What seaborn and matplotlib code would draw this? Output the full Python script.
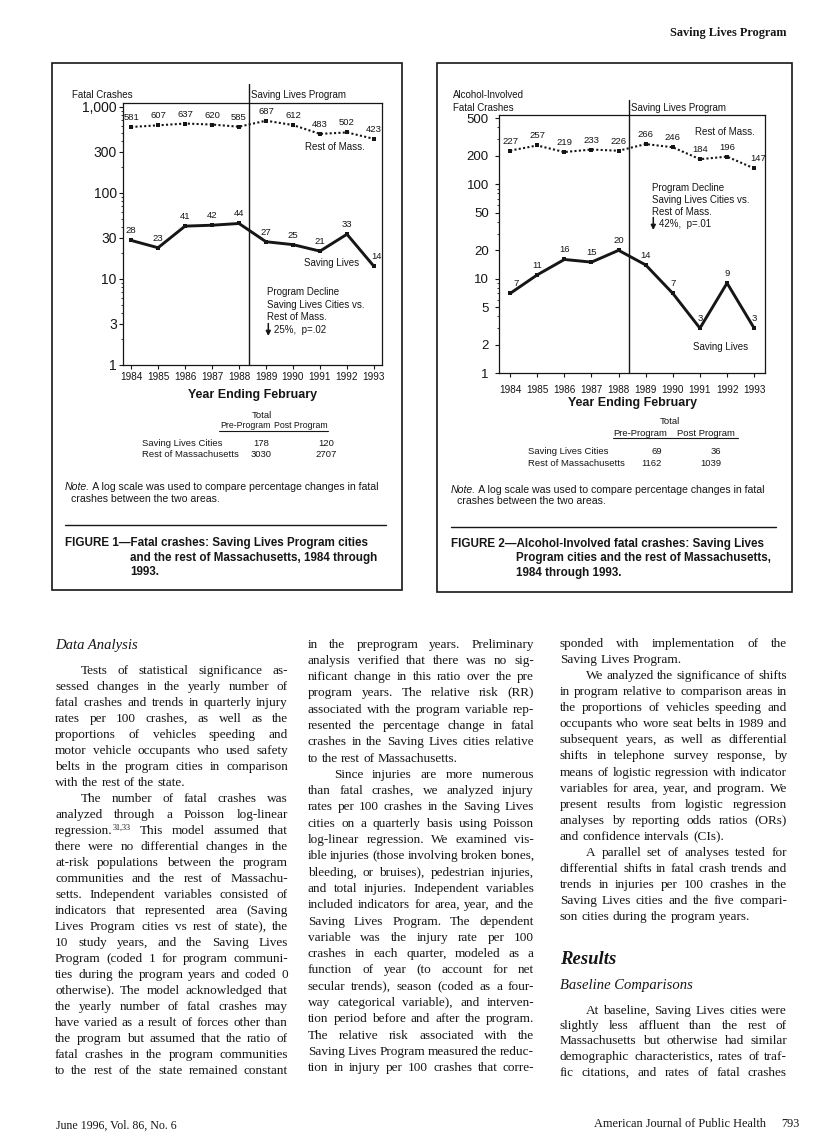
import numpy as np
import pandas as pd
import seaborn as sns
import matplotlib
matplotlib.use("Agg")
import matplotlib.pyplot as plt
from matplotlib.font_manager import FontProperties
from matplotlib.patches import Rectangle
from matplotlib.lines import Line2D
from matplotlib.ticker import LogLocator, NullFormatter

# ---------------- data ----------------
years = [1984, 1985, 1986, 1987, 1988, 1989, 1990, 1991, 1992, 1993]
fatal_rest = [581, 607, 637, 620, 585, 687, 612, 483, 502, 423]
fatal_saving = [28, 23, 41, 42, 44, 27, 25, 21, 33, 14]
alcohol_rest = [227, 257, 219, 233, 226, 266, 246, 184, 196, 147]
alcohol_saving = [7, 11, 16, 15, 20, 14, 7, 3, 9, 3]

fig1_yticks = [1, 3, 10, 30, 100, 300, 1000]
fig1_yticklabels = ["1", "3", "10", "30", "100", "300", "1,000"]
fig2_yticks = [1, 2, 5, 10, 20, 50, 100, 200, 500]
fig2_yticklabels = ["1", "2", "5", "10", "20", "50", "100", "200", "500"]

table_rows = ["Saving Lives Cities", "Rest of Massachusetts"]
fig1_pre = ["178", "3030"]
fig1_post = ["120", "2707"]
fig2_pre = ["69", "1162"]
fig2_post = ["36", "1039"]

# ---------------- setup ----------------
W, H = 816, 1145
INK = "#161616"
SANS = "Liberation Sans"
SERIF = "Liberation Serif"

sns.set_theme(style="white")
plt.rcParams["font.family"] = [SANS, "DejaVu Sans"]
plt.rcParams["text.color"] = INK
plt.rcParams["xtick.color"] = INK
plt.rcParams["ytick.color"] = INK
plt.rcParams["axes.edgecolor"] = INK

fig = plt.figure(figsize=(W / 100, H / 100), dpi=100)
fig.patch.set_facecolor("white")

LBL = 7.0  # chart annotation size


def T(x, y, s, size, ha="left", va="center", weight="normal", style="normal", family=SANS):
    return fig.text(x / W, 1 - y / H, s, fontsize=size, ha=ha, va=va,
                    fontweight=weight, fontstyle=style, family=family, color=INK)


def hline(x0, x1, y, lw=1.0):
    fig.add_artist(Line2D([x0 / W, x1 / W], [1 - y / H, 1 - y / H],
                          transform=fig.transFigure, color=INK, lw=lw))


def box(x0, y0, x1, y1, lw=1.2):
    fig.add_artist(Rectangle((x0 / W, 1 - y1 / H), (x1 - x0) / W, (y1 - y0) / H,
                             transform=fig.transFigure, fill=False, ec=INK, lw=lw))


def arrow_down(x, y0, y1):
    fig.add_artist(matplotlib.patches.FancyArrowPatch(
        (x / W, 1 - y0 / H), (x / W, 1 - y1 / H), transform=fig.transFigure,
        arrowstyle="-|>", mutation_scale=7, color=INK, lw=1.1,
        shrinkA=0, shrinkB=0))


def make_axes(left, top, right, bottom):
    return fig.add_axes([left / W, 1 - bottom / H, (right - left) / W, (bottom - top) / H])


def draw_chart(ax, rest, saving, yticks, yticklabels, ylim, xlim, vline_x, vline_top,
               ytick_size, ytick_pad, xtick_pad, rest_dx, saving_dx):
    sns.lineplot(x=years, y=rest, ax=ax, color=INK, linewidth=1.5,
                 linestyle=(0, (1, 1.1)), marker="s", markersize=2.6,
                 markeredgewidth=0)
    sns.lineplot(x=years, y=saving, ax=ax, color=INK, linewidth=2.1,
                 marker="s", markersize=2.6, markeredgewidth=0)
    ax.set_yscale("log")
    ax.set_ylim(*ylim)
    ax.set_xlim(*xlim)
    ax.set_yticks(yticks)
    ax.set_yticklabels(yticklabels)
    ax.yaxis.set_minor_locator(LogLocator(base=10, subs=np.arange(2, 10)))
    ax.yaxis.set_minor_formatter(NullFormatter())
    ax.set_xticks(years)
    ax.set_xticklabels([str(y) for y in years])
    ax.set_xlabel("")
    ax.set_ylabel("")
    ax.set_facecolor("white")
    for sp in ax.spines.values():
        sp.set_visible(True)
        sp.set_color(INK)
        sp.set_linewidth(0.9)
    ax.tick_params(axis="y", which="major", left=True, direction="out", length=3,
                   width=0.8, pad=ytick_pad, labelsize=ytick_size)
    ax.tick_params(axis="y", which="minor", left=True, direction="out", length=1.8,
                   width=0.6)
    ax.tick_params(axis="x", which="major", bottom=True, direction="out", length=3,
                   width=0.8, pad=xtick_pad, labelsize=7.2)
    ax.tick_params(axis="x", which="minor", bottom=False)
    ax.grid(False)
    ax.axvline(vline_x, ymin=0, ymax=vline_top, color=INK, lw=1.0, clip_on=False)
    for i, (yr, v) in enumerate(zip(years, rest)):
        ax.annotate(str(v), (yr, v), xytext=(rest_dx.get(i, 0), 3.6),
                    textcoords="offset points", ha="center", va="bottom",
                    fontsize=6.8, color=INK)
    for i, (yr, v) in enumerate(zip(years, saving)):
        ax.annotate(str(v), (yr, v), xytext=(saving_dx.get(i, 0), 3.6),
                    textcoords="offset points", ha="center", va="bottom",
                    fontsize=6.8, color=INK)


# ---------------- boxes ----------------
box(52, 63, 402, 590)
box(437, 63, 792, 592)

# ---------------- Figure 1 chart ----------------
a1l, a1t, a1r, a1b = 122.7, 102.7, 382.3, 365.0
ax1 = make_axes(a1l, a1t, a1r, a1b)
draw_chart(ax1, fatal_rest, fatal_saving, fig1_yticks, fig1_yticklabels,
           (1, 1112), (1983.69, 1993.31), 1988.36, 1 + (a1t - 84) / (a1b - a1t),
           10, 1.2, 2.4, {}, {9: 2})
T(71.7, 95, "Fatal Crashes", LBL)
T(251, 95, "Saving Lives Program", LBL)
T(335, 146.7, "Rest of Mass.", LBL, ha="center")
T(331.7, 262.7, "Saving Lives", LBL, ha="center")
T(266.7, 291.7, "Program Decline", LBL)
T(266.7, 304.5, "Saving Lives Cities vs.", LBL)
T(266.7, 317.3, "Rest of Mass.", LBL)
T(274, 330, "25%,  p=.02", LBL)
arrow_down(268.3, 323.5, 336)
T((a1l + a1r) / 2, 395, "Year Ending February", 9, ha="center", weight="bold")

# table 1
T(262, 415, "Total", 6.8, ha="center")
T(245, 426, "Pre-Program", 6.3, ha="center")
T(301, 426, "Post Program", 6.3, ha="center")
hline(219, 328, 430.5, lw=0.8)
for k, (name, pre, post) in enumerate(zip(table_rows, fig1_pre, fig1_post)):
    yy = 443 + 11 * k
    T(141.7, yy, name, 6.8)
    T(261, yy, pre, 6.8, ha="center")
    T(326, yy, post, 6.8, ha="center")

# ---------------- Figure 2 chart ----------------
a2l, a2t, a2r, a2b = 499.3, 115.0, 765.0, 373.3
ax2 = make_axes(a2l, a2t, a2r, a2b)
draw_chart(ax2, alcohol_rest, alcohol_saving, fig2_yticks, fig2_yticklabels,
           (1, 540), (1983.6, 1993.4), 1988.38, 1 + (a2t - 100) / (a2b - a2t),
           9.5, 4.5, 5.5, {9: 3}, {0: 4})
T(453, 95, "Alcohol-Involved", LBL)
T(453, 107.7, "Fatal Crashes", LBL)
T(631, 108.3, "Saving Lives Program", LBL)
T(695, 131.7, "Rest of Mass.", LBL)
T(651.7, 188.3, "Program Decline", LBL)
T(651.7, 200, "Saving Lives Cities vs.", LBL)
T(651.7, 211.7, "Rest of Mass.", LBL)
T(659, 224, "42%,  p=.01", LBL)
arrow_down(653.3, 217.5, 230)
T(721, 346.7, "Saving Lives", LBL, ha="center")
T((a2l + a2r) / 2, 402.7, "Year Ending February", 9, ha="center", weight="bold")

# table 2
T(670, 422, "Total", 6.8, ha="center")
T(640, 433, "Pre-Program", 6.8, ha="center")
T(706, 433, "Post Program", 6.8, ha="center")
hline(613, 738, 437.5, lw=0.8)
for k, (name, pre, post) in enumerate(zip(table_rows, fig2_pre, fig2_post)):
    yy = 452 + 11 * k
    T(528, yy, name, 6.8)
    T(662, yy, pre, 6.8, ha="right")
    T(721, yy, post, 6.8, ha="right")

# ---------------- notes and captions ----------------
renderer = fig.canvas.get_renderer()


def tw(s, prop):
    w, h, d = renderer.get_text_width_height_descent(s, prop, ismath=False)
    return w


def note(x, y, size):
    pi = FontProperties(family=SANS, style="italic", size=size)
    T(x, y, "Note.", size, style="italic")
    T(x + tw("Note.", pi), y, " A log scale was used to compare percentage changes in fatal", size)
    T(x + 6, y + 11.5, "crashes between the two areas.", size)


def caption(x, y, label, lines, size):
    pb = FontProperties(family=SANS, weight="bold", size=size)
    T(x, y, label + lines[0], size, weight="bold")
    ind = tw(label, pb)
    for k, ln in enumerate(lines[1:]):
        T(x + ind, y + 14.5 * (k + 1), ln, size, weight="bold")


note(65, 487, 7.55)
hline(65, 386, 525, lw=1.0)
caption(65, 543, "FIGURE 1\u2014",
        ["Fatal crashes: Saving Lives Program cities",
         "and the rest of Massachusetts, 1984 through",
         "1993."], 8.35)

note(451, 490, 7.55)
hline(451, 776, 527, lw=1.0)
caption(451, 544, "FIGURE 2\u2014",
        ["Alcohol-Involved fatal crashes: Saving Lives",
         "Program cities and the rest of Massachusetts,",
         "1984 through 1993."], 8.35)

# ---------------- running header / footer ----------------
T(787, 33.3, "Saving Lives Program", 8.8, ha="right", weight="bold", family=SERIF)
T(56, 1126, "June 1996, Vol. 86, No. 6", 8.6, family=SERIF)
T(594, 1124, "American Journal of Public Health", 8.8, family=SERIF)
T(800, 1124, "793", 8.8, ha="right", family=SERIF)

# ---------------- body text (justified, word by word) ----------------
BODY = 9.5
pbody = FontProperties(family=SERIF, size=BODY)
psup = FontProperties(family=SERIF, size=BODY * 0.62)
SPACE_W = tw("a a", pbody) - 2 * tw("a", pbody)

try:
    from matplotlib.backends.backend_agg import get_hinting_flag
except Exception:
    get_hinting_flag = None


def aligned_y(s, prop, row):
    # choose the requested baseline so that Agg's pixel snapping puts every
    # word's baseline on the same pixel row
    try:
        font = renderer._prepare_font(prop)
        font.set_text(s, 0.0, flags=get_hinting_flag())
        b = int(font.get_descent())
        _, h = font.get_width_height()
        a = int(h) - b
        k = (a // 64) - ((a + b) // 64)
        return row - k - b / 64.0
    except Exception:
        return row


def put(x, row, s, prop):
    y = aligned_y(s, prop, row)
    fig.text(x / W, 1 - y / H, s, fontproperties=prop, ha="left",
             va="baseline", color=INK)


def body_line(text, x0, x1, row, justify):
    words = text.split(" ")
    items = []
    for w in words:
        if "^" in w:
            b, s = w.split("^")
            parts = [(b, pbody, 0), (s, psup, 4)]
        else:
            parts = [(w, pbody, 0)]
        items.append([(p, pr, r, tw(p, pr)) for p, pr, r in parts])
    total = sum(sum(q[3] for q in it) for it in items)
    n = len(items)
    if justify and n > 1:
        gap = max((x1 - x0 - total) / (n - 1), 0.45 * SPACE_W)
    else:
        gap = SPACE_W
    x = x0
    for it in items:
        for p, pr, r, w in it:
            put(x, row - r, p, pr)
            x += w
        x += gap


def column(paras, x0, x1, y0, step, indent=26):
    y = y0
    for ind, last_just, lines in paras:
        for k, ln in enumerate(lines):
            xs = x0 + (indent if (ind and k == 0) else 0)
            just = (k < len(lines) - 1) or last_just
            body_line(ln, xs, x1, int(round(y + 4.0)), just)
            y += step
    return y


col1 = [
    (True, False, [
        "Tests of statistical significance as-",
        "sessed changes in the yearly number of",
        "fatal crashes and trends in quarterly injury",
        "rates per 100 crashes, as well as the",
        "proportions of vehicles speeding and",
        "motor vehicle occupants who used safety",
        "belts in the program cities in comparison",
        "with the rest of the state."]),
    (True, True, [
        "The number of fatal crashes was",
        "analyzed through a Poisson log-linear",
        "regression.^31,33 This model assumed that",
        "there were no differential changes in the",
        "at-risk populations between the program",
        "communities and the rest of Massachu-",
        "setts. Independent variables consisted of",
        "indicators that represented area (Saving",
        "Lives Program cities vs rest of state), the",
        "10 study years, and the Saving Lives",
        "Program (coded 1 for program communi-",
        "ties during the program years and coded 0",
        "otherwise). The model acknowledged that",
        "the yearly number of fatal crashes may",
        "have varied as a result of forces other than",
        "the program but assumed that the ratio of",
        "fatal crashes in the program communities",
        "to the rest of the state remained constant"]),
]

col2 = [
    (False, False, [
        "in the preprogram years. Preliminary",
        "analysis verified that there was no sig-",
        "nificant change in this ratio over the pre",
        "program years. The relative risk (RR)",
        "associated with the program variable rep-",
        "resented the percentage change in fatal",
        "crashes in the Saving Lives cities relative",
        "to the rest of Massachusetts."]),
    (True, True, [
        "Since injuries are more numerous",
        "than fatal crashes, we analyzed injury",
        "rates per 100 crashes in the Saving Lives",
        "cities on a quarterly basis using Poisson",
        "log-linear regression. We examined vis-",
        "ible injuries (those involving broken bones,",
        "bleeding, or bruises), pedestrian injuries,",
        "and total injuries. Independent variables",
        "included indicators for area, year, and the",
        "Saving Lives Program. The dependent",
        "variable was the injury rate per 100",
        "crashes in each quarter, modeled as a",
        "function of year (to account for net",
        "secular trends), season (coded as a four-",
        "way categorical variable), and interven-",
        "tion period before and after the program.",
        "The relative risk associated with the",
        "Saving Lives Program measured the reduc-",
        "tion in injury per 100 crashes that corre-"]),
]

col3a = [
    (False, False, [
        "sponded with implementation of the",
        "Saving Lives Program."]),
    (True, False, [
        "We analyzed the significance of shifts",
        "in program relative to comparison areas in",
        "the proportions of vehicles speeding and",
        "occupants who wore seat belts in 1989 and",
        "subsequent years, as well as differential",
        "shifts in telephone survey response, by",
        "means of logistic regression with indicator",
        "variables for area, year, and program. We",
        "present results from logistic regression",
        "analyses by reporting odds ratios (ORs)",
        "and confidence intervals (CIs)."]),
    (True, False, [
        "A parallel set of analyses tested for",
        "differential shifts in fatal crash trends and",
        "trends in injuries per 100 crashes in the",
        "Saving Lives cities and the five compari-",
        "son cities during the program years."]),
]

col3b = [
    (True, True, [
        "At baseline, Saving Lives cities were",
        "slightly less affluent than the rest of",
        "Massachusetts but otherwise had similar",
        "demographic characteristics, rates of traf-",
        "fic citations, and rates of fatal crashes"]),
]

T(55, 645, "Data Analysis", 10.5, style="italic", family=SERIF)
column(col1, 55, 288, 669.5, 16.0)
column(col2, 308, 534, 643.5, 16.3)
column(col3a, 560, 787, 642.7, 16.1)
T(560, 959, "Results", 13.5, weight="bold", style="italic", family=SERIF)
T(560, 985.5, "Baseline Comparisons", 10.5, style="italic", family=SERIF)
column(col3b, 560, 787, 1009.5, 15.5)

fig.savefig("out.png", dpi=100, facecolor="white")
